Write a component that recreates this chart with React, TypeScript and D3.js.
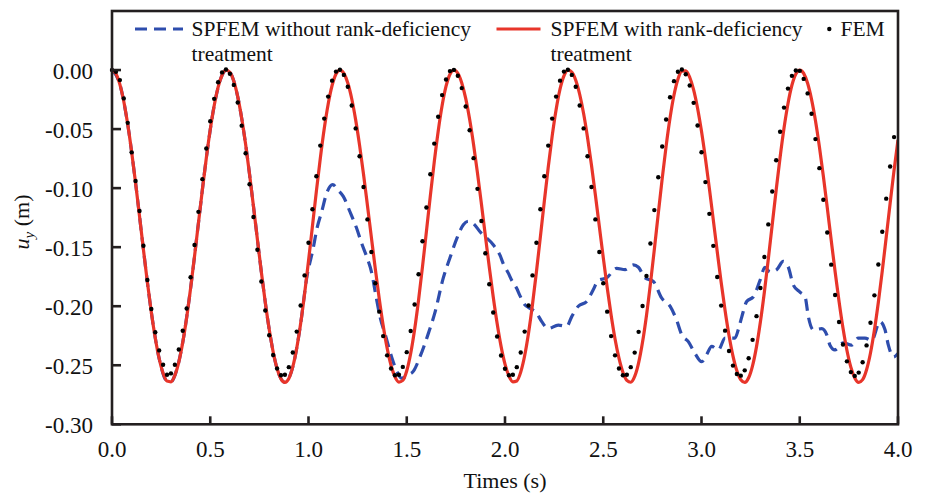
import React from 'react';
import * as d3 from 'd3';

// time step of the sampled series (s)
const timeStep = 0.02;

// SPFEM with rank-deficiency treatment, u_y (m), sampled every 0.02 s from 0 to 4 s
const treatedValues = [
  0, -0.0031, -0.0121, -0.0266, -0.0460, -0.0694, -0.0957, -0.1237, -0.1521, -0.1796,
  -0.2049, -0.2267, -0.2443, -0.2567, -0.2634, -0.2640, -0.2585, -0.2473, -0.2306, -0.2095,
  -0.1848, -0.1577, -0.1294, -0.1012, -0.0745, -0.0504, -0.0302, -0.0145, -0.0044, -0.0001,
  -0.0019, -0.0095, -0.0227, -0.0408, -0.0629, -0.0882, -0.1155, -0.1435, -0.1710, -0.1967,
  -0.2196, -0.2386, -0.2528, -0.2615, -0.2645, -0.2612, -0.2514, -0.2356, -0.2147, -0.1896,
  -0.1617, -0.1323, -0.1028, -0.0749, -0.0498, -0.0289, -0.0131, -0.0033, 0, -0.0028,
  -0.0110, -0.0243, -0.0422, -0.0638, -0.0883, -0.1147, -0.1417, -0.1684, -0.1936, -0.2163,
  -0.2353, -0.2500, -0.2598, -0.2642, -0.2628, -0.2546, -0.2400, -0.2197, -0.1949, -0.1667,
  -0.1368, -0.1066, -0.0778, -0.0518, -0.0301, -0.0137, -0.0035, 0, -0.0027, -0.0109,
  -0.0240, -0.0417, -0.0630, -0.0873, -0.1134, -0.1403, -0.1669, -0.1920, -0.2147, -0.2340,
  -0.2490, -0.2591, -0.2641, -0.2633, -0.2558, -0.2420, -0.2225, -0.1984, -0.1708, -0.1413,
  -0.1113, -0.0823, -0.0560, -0.0336, -0.0162, -0.0049, -0.0001, -0.0017, -0.0086, -0.0205,
  -0.0368, -0.0571, -0.0804, -0.1058, -0.1323, -0.1587, -0.1841, -0.2074, -0.2277, -0.2440,
  -0.2559, -0.2628, -0.2644, -0.2595, -0.2480, -0.2304, -0.2078, -0.1811, -0.1519, -0.1216,
  -0.0919, -0.0644, -0.0404, -0.0211, -0.0077, -0.0009, -0.0007, -0.0061, -0.0168, -0.0323,
  -0.0519, -0.0749, -0.1002, -0.1269, -0.1537, -0.1797, -0.2037, -0.2248, -0.2420, -0.2547,
  -0.2623, -0.2645, -0.2606, -0.2503, -0.2342, -0.2130, -0.1879, -0.1600, -0.1308, -0.1016,
  -0.0739, -0.0491, -0.0285, -0.0129, -0.0033, 0, -0.0028, -0.0112, -0.0248, -0.0429,
  -0.0649, -0.0898, -0.1165, -0.1439, -0.1708, -0.1960, -0.2185, -0.2373, -0.2516, -0.2608,
  -0.2645, -0.2622, -0.2538, -0.2396, -0.2202, -0.1967, -0.1701, -0.1416, -0.1128, -0.0848,
  -0.0591,
];

// FEM, u_y (m), sampled every 0.02 s from 0 to 3.98 s
const femValues = [
  0, -0.0014, -0.0085, -0.0240, -0.0447, -0.0697, -0.0940, -0.1194, -0.1488, -0.1778,
  -0.2024, -0.2221, -0.2374, -0.2496, -0.2581, -0.2569, -0.2496, -0.2366, -0.2208, -0.2019,
  -0.1755, -0.1482, -0.1201, -0.0924, -0.0664, -0.0434, -0.0244, -0.0104, -0.0020, 0.0005,
  -0.0031, -0.0126, -0.0275, -0.0471, -0.0705, -0.0967, -0.1244, -0.1522, -0.1791, -0.2036,
  -0.2246, -0.2413, -0.2527, -0.2584, -0.2581, -0.2516, -0.2392, -0.2215, -0.1994, -0.1739,
  -0.1463, -0.1179, -0.0900, -0.0640, -0.0411, -0.0225, -0.0090, -0.0013, 0.0003, -0.0041,
  -0.0142, -0.0300, -0.0494, -0.0730, -0.0990, -0.1265, -0.1541, -0.1805, -0.2046, -0.2253,
  -0.2416, -0.2528, -0.2584, -0.2580, -0.2514, -0.2389, -0.2210, -0.1986, -0.1729, -0.1450,
  -0.1164, -0.0883, -0.0623, -0.0395, -0.0212, -0.0080, -0.0009, 0.0001, -0.0048, -0.0153,
  -0.0309, -0.0510, -0.0746, -0.1006, -0.1279, -0.1552, -0.1814, -0.2053, -0.2257, -0.2418,
  -0.2529, -0.2584, -0.2581, -0.2516, -0.2392, -0.2215, -0.1994, -0.1739, -0.1463, -0.1179,
  -0.0900, -0.0640, -0.0411, -0.0225, -0.0090, -0.0013, 0.0003, -0.0041, -0.0142, -0.0300,
  -0.0494, -0.0730, -0.0990, -0.1265, -0.1541, -0.1805, -0.2046, -0.2253, -0.2416, -0.2528,
  -0.2584, -0.2581, -0.2516, -0.2393, -0.2217, -0.1998, -0.1744, -0.1469, -0.1186, -0.0908,
  -0.0648, -0.0419, -0.0231, -0.0094, -0.0015, 0.0004, -0.0036, -0.0131, -0.0278, -0.0469,
  -0.0696, -0.0949, -0.1218, -0.1489, -0.1753, -0.1995, -0.2207, -0.2379, -0.2503, -0.2574,
  -0.2588, -0.2543, -0.2441, -0.2285, -0.2084, -0.1846, -0.1583, -0.1307, -0.1029, -0.0764,
  -0.0523, -0.0318, -0.0157, -0.0049, -0.0004, -0.0007, -0.0075, -0.0198, -0.0370, -0.0585,
  -0.0831, -0.1099, -0.1376, -0.1648, -0.1905, -0.2134, -0.2324, -0.2467, -0.2558, -0.2590,
  -0.2562, -0.2475, -0.2332, -0.2140, -0.1908, -0.1647, -0.1370, -0.1089, -0.0817, -0.0568,
];

// SPFEM without rank-deficiency treatment: times (s) and u_y (m)
const untreatedTime = [
  0, 0.04, 0.08, 0.12, 0.16, 0.20, 0.24, 0.28, 0.30, 0.32, 0.36, 0.40, 0.44, 0.48, 0.52, 0.56, 0.58,
  0.60, 0.64, 0.68, 0.72, 0.76, 0.80, 0.84, 0.88, 0.92, 0.96, 0.99,
  1.025, 1.042, 1.067, 1.093, 1.123, 1.152, 1.177, 1.211, 1.245, 1.271, 1.296, 1.322, 1.344, 1.364,
  1.394, 1.423, 1.449, 1.474, 1.508, 1.534, 1.567, 1.610, 1.644, 1.686, 1.720, 1.754, 1.788, 1.813,
  1.839, 1.873, 1.940, 1.975, 1.991, 2.017, 2.034, 2.060, 2.076, 2.102, 2.119, 2.161, 2.187, 2.220,
  2.271, 2.314, 2.339, 2.373, 2.416, 2.449, 2.475, 2.517, 2.568, 2.611, 2.653, 2.679, 2.712, 2.755,
  2.797, 2.840, 2.874, 2.899, 2.933, 2.967, 3.001, 3.026, 3.052, 3.086, 3.120, 3.170, 3.187, 3.205,
  3.230, 3.264, 3.298, 3.323, 3.349, 3.383, 3.416, 3.442, 3.467, 3.501, 3.527, 3.544, 3.569, 3.612,
  3.637, 3.654, 3.679, 3.722, 3.764, 3.798, 3.832, 3.866, 3.908, 3.934, 3.951, 3.977, 4.0,
];
const untreatedValues = [
  0, -0.0121, -0.0460, -0.0957, -0.1521, -0.2049, -0.2443, -0.2634, -0.2640, -0.2585, -0.2306, -0.1848, -0.1294, -0.0745, -0.0302, -0.0044, -0.0001,
  -0.0019, -0.0227, -0.0629, -0.1155, -0.1710, -0.2196, -0.2528, -0.2645, -0.2514, -0.2147, -0.177,
  -0.150, -0.135, -0.120, -0.104, -0.097, -0.102, -0.107, -0.120, -0.134, -0.147, -0.158, -0.172, -0.192, -0.209,
  -0.226, -0.243, -0.255, -0.261, -0.258, -0.255, -0.243, -0.223, -0.205, -0.176, -0.159, -0.143, -0.131, -0.128,
  -0.130, -0.137, -0.148, -0.157, -0.164, -0.172, -0.178, -0.185, -0.191, -0.199, -0.201, -0.206, -0.213, -0.219,
  -0.216, -0.217, -0.209, -0.200, -0.196, -0.186, -0.178, -0.176, -0.168, -0.169, -0.165, -0.167, -0.176, -0.179,
  -0.193, -0.200, -0.212, -0.224, -0.230, -0.240, -0.247, -0.241, -0.234, -0.237, -0.227, -0.227, -0.220, -0.209,
  -0.196, -0.192, -0.178, -0.167, -0.171, -0.169, -0.162, -0.167, -0.182, -0.188, -0.192, -0.209, -0.220, -0.219,
  -0.224, -0.233, -0.237, -0.231, -0.233, -0.227, -0.227, -0.229, -0.213, -0.220, -0.233, -0.243, -0.240,
];

const xTicks = [0, 0.5, 1.0, 1.5, 2.0, 2.5, 3.0, 3.5, 4.0];
const yTicks = [0, -0.05, -0.10, -0.15, -0.20, -0.25, -0.30];
const xTitle = 'Times (s)';
const legendUntreated = ['SPFEM without rank-deficiency', 'treatment'];
const legendTreated = ['SPFEM with rank-deficiency', 'treatment'];
const legendFem = 'FEM';

const RED = '#e8352a';
const BLUE = '#2e4dad';
const AXIS = '#231f20';
const FONT = "'Liberation Serif', 'Times New Roman', serif";

export default function App() {
  const left = 112, right = 898, top = 11, bottom = 424.3;
  const x = d3.scaleLinear().domain([0, 4]).range([left, right]);
  const y = d3.scaleLinear().domain([-0.3, 0.05]).range([bottom, top]);

  const redPath =
    d3
      .line<number>()
      .x((_, i) => x(i * timeStep))
      .y((d) => y(d))
      .curve(d3.curveMonotoneX)(treatedValues) || '';

  const bluePath =
    d3
      .line<number>()
      .x((_, i) => x(untreatedTime[i]))
      .y((d) => y(d))
      .curve(d3.curveMonotoneX)(untreatedValues) || '';

  const txt = { fontFamily: FONT, fill: '#111' } as React.CSSProperties;

  return (
    <svg
      width={926}
      height={497}
      viewBox="0 0 926 497"
      style={{ position: 'absolute', left: 0, top: 0, background: '#fff' }}
    >
      <defs>
        <clipPath id="plotClip">
          <rect x={left} y={top} width={right - left} height={bottom - top} />
        </clipPath>
      </defs>
      <rect x={0} y={0} width={926} height={497} fill="#fff" />

      <g clipPath="url(#plotClip)">
        <path d={bluePath} fill="none" stroke={BLUE} strokeWidth={3.2} strokeDasharray="12,7" />
        <path d={redPath} fill="none" stroke={RED} strokeWidth={3.2} />
      </g>
      <g>
        {femValues.map((v, i) => (
          <circle key={i} cx={x(i * timeStep)} cy={y(v)} r={2.2} fill="#000" />
        ))}
      </g>

      {/* frame */}
      <rect x={left} y={top} width={right - left} height={bottom - top} fill="none" stroke={AXIS} strokeWidth={2.6} />

      {/* y ticks */}
      {yTicks.map((v) => (
        <g key={'y' + v}>
          <line x1={left} x2={left + 9} y1={y(v)} y2={y(v)} stroke={AXIS} strokeWidth={2.6} />
          <text x={93} y={y(v) + 8.5} textAnchor="end" fontSize={23} style={txt}>
            {v.toFixed(2)}
          </text>
        </g>
      ))}
      {/* x ticks */}
      {xTicks.map((v) => (
        <g key={'x' + v}>
          <line x1={x(v)} x2={x(v)} y1={bottom} y2={bottom - 8} stroke={AXIS} strokeWidth={2.6} />
          <text x={x(v)} y={456.5} textAnchor="middle" fontSize={23} style={txt}>
            {v.toFixed(1)}
          </text>
        </g>
      ))}

      {/* axis titles */}
      <text x={505} y={488} textAnchor="middle" fontSize={22} style={txt}>
        {xTitle}
      </text>
      <text transform="translate(29,222) rotate(-90)" textAnchor="middle" fontSize={22} style={txt}>
        <tspan fontStyle="italic">u</tspan>
        <tspan fontStyle="italic" fontSize={15} dy={5}>y</tspan>
        <tspan dy={-5}> (m)</tspan>
      </text>

      {/* legend */}
      <line x1={135} x2={183} y1={29} y2={29} stroke={BLUE} strokeWidth={3.2} strokeDasharray="12,7" />
      <text x={191.5} y={36} fontSize={21.5} style={txt}>
        {legendUntreated[0]}
        <tspan x={191.5} dy={25}>{legendUntreated[1]}</tspan>
      </text>
      <line x1={496.5} x2={540.5} y1={29} y2={29} stroke={RED} strokeWidth={3.2} />
      <text x={550.5} y={36} fontSize={21.5} style={txt}>
        {legendTreated[0]}
        <tspan x={550.5} dy={25}>{legendTreated[1]}</tspan>
      </text>
      <circle cx={829.3} cy={29} r={2.2} fill="#000" />
      <text x={840.5} y={36} fontSize={21.5} style={txt}>
        {legendFem}
      </text>
    </svg>
  );
}
